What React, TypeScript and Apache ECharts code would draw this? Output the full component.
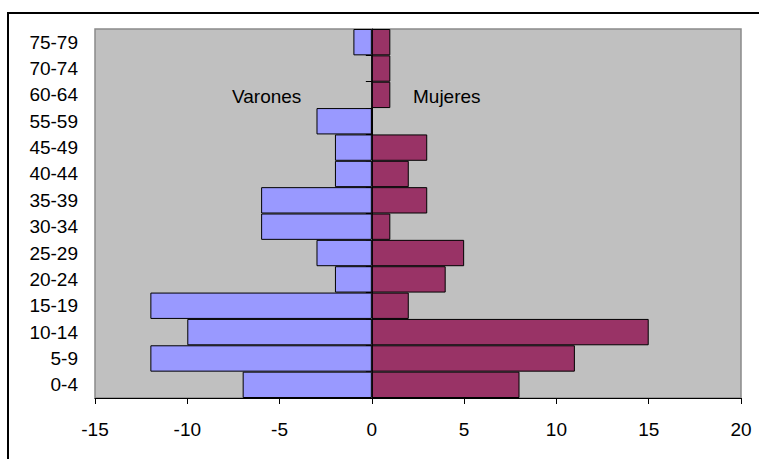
import React, { useEffect, useRef } from "react";
import * as echarts from "echarts";

const categories = ["0-4", "5-9", "10-14", "15-19", "20-24", "25-29", "30-34", "35-39", "40-44", "45-49", "55-59", "60-64", "70-74", "75-79"];
const varones = [-7, -12, -10, -12, -2, -3, -6, -6, -2, -2, -3, 0, 0, -1];
const mujeres = [8, 11, 15, 2, 4, 5, 1, 3, 2, 3, 0, 1, 1, 1];
const xTicks = { min: -15, max: 20, interval: 5 };

export default function App() {
  const ref = useRef<HTMLDivElement>(null);
  useEffect(() => {
    if (!ref.current) return;
    const chart = echarts.init(ref.current, null, { renderer: "svg" });
    const font = "Arial, 'Liberation Sans', sans-serif";
    chart.setOption({
      animation: false,
      backgroundColor: "#ffffff",
      grid: {
        left: 95,
        top: 29,
        right: 18,
        bottom: 61,
        show: true,
        backgroundColor: "#C0C0C0",
        borderColor: "#8a8a8a",
        borderWidth: 1.5,
      },
      xAxis: {
        type: "value",
        min: xTicks.min,
        max: xTicks.max,
        interval: xTicks.interval,
        splitLine: { show: false },
        axisLine: { show: true, lineStyle: { color: "#000", width: 1 } },
        axisTick: { show: true, length: 6, lineStyle: { color: "#000" } },
        axisLabel: { color: "#000", fontSize: 19, fontFamily: font, margin: 22 },
      },
      yAxis: [
        {
          type: "category",
          data: categories,
          position: "left",
          axisLine: { show: false, onZero: false },
          axisTick: { show: false },
          axisLabel: { color: "#000", fontSize: 19, fontFamily: font, margin: 17 },
        },
        {
          type: "category",
          data: categories,
          axisLine: { show: true, onZero: true, lineStyle: { color: "#000", width: 1 } },
          axisTick: { show: true, inside: false, length: 6, lineStyle: { color: "#000" } },
          axisLabel: { show: false },
          position: "left",
        },
      ],
      series: [
        {
          name: "Varones",
          type: "bar",
          data: varones,
          barCategoryGap: 0,
          barGap: "-100%",
          itemStyle: { color: "#9999FF", borderColor: "#000", borderWidth: 1 },
          z: 1,
        },
        {
          name: "Mujeres",
          type: "bar",
          data: mujeres,
          barCategoryGap: 0,
          barGap: "-100%",
          itemStyle: { color: "#993366", borderColor: "#000", borderWidth: 1 },
          z: 1,
        },
      ],
      graphic: [
        {
          type: "line",
          shape: { x1: 7, y1: 13, x2: 800, y2: 13 },
          style: { stroke: "#000", lineWidth: 2 },
          z: 100,
          silent: true,
        },
        {
          type: "line",
          shape: { x1: 8, y1: 12, x2: 8, y2: 500 },
          style: { stroke: "#000", lineWidth: 2 },
          z: 100,
          silent: true,
        },
        {
          type: "text",
          x: 232,
          y: 96,
          style: { text: "Varones", fill: "#000", font: "19px " + font, verticalAlign: "middle" },
          z: 100,
        },
        {
          type: "text",
          x: 413,
          y: 96,
          style: { text: "Mujeres", fill: "#000", font: "19px " + font, verticalAlign: "middle" },
          z: 100,
        },
      ],
    });
    return () => chart.dispose();
  }, []);
  return <div ref={ref} style={{ position: "fixed", left: 0, top: 0, width: 759, height: 459 }} />;
}
